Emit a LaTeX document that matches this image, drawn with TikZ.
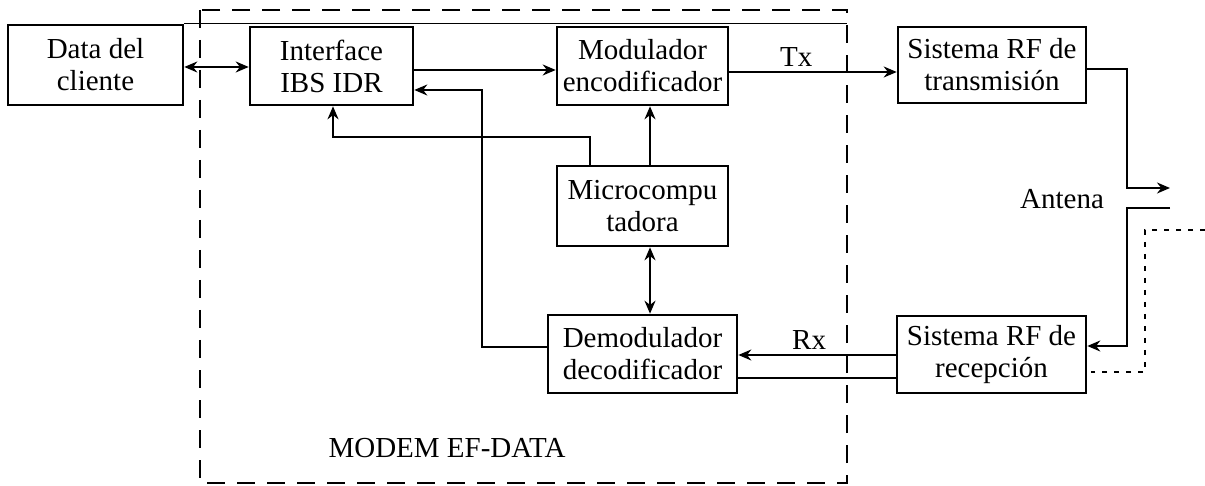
\documentclass[tikz,border=0pt]{standalone}
\usepackage{fontspec}
\setmainfont{Liberation Serif}
\usepackage{tikz}
\usetikzlibrary{calc,arrows.meta}

\begin{document}
\begin{tikzpicture}[x=0.5pt,y=-0.5pt,>={Stealth[length=6.5pt,width=5.5pt]},
    bloque/.style={draw,line width=1.3pt,align=center,inner sep=1pt,
        font=\fontsize{14.5}{16}\selectfont},
    flecha/.style={line width=1pt},
    etiqueta/.style={font=\fontsize{14.5}{16}\selectfont}]

        % Marco de la figura
        \useasboundingbox (0,0) rectangle (1205,486);

        % Recuadro del modem
        \draw[line width=1.4pt,dash pattern=on 9pt off 6pt] (200,10) rectangle (847,483);
        \node[etiqueta] (modem) at (447,448) {MODEM EF-DATA};

        % Bloques
        \node[bloque,minimum width=87.5pt,minimum height=40pt] (data) at (95.5,65) {Data del\\cliente};
        \node[bloque,minimum width=81.5pt,minimum height=39pt] (iface) at (331.5,66) {Interface\\IBS IDR};
        \node[bloque,minimum width=85.5pt,minimum height=39pt] (mod) at (642.5,66) {Modulador\\encodificador};
        \node[bloque,minimum width=85.5pt,minimum height=40pt] (micro) at (642.5,206) {Microcompu\\tadora};
        \node[bloque,minimum width=94.5pt,minimum height=39pt] (demod) at (642.5,354) {Demodulador\\decodificador};
        \node[bloque,minimum width=94pt,minimum height=38pt] (rftx) at (992,65) {Sistema RF de\\transmisión};
        \node[bloque,minimum width=94.5pt,minimum height=38.5pt] (rfrx) at (991.5,354.5) {Sistema RF de\\recepción};
        \node[etiqueta] (antena) at (1062,199) {Antena};

        % Linea superior
        \draw[line width=0.8pt] (data.north east) -- (data.north east -| 847,0);

        % Conexiones del modem
        \draw[flecha,<->] (data.east |- 0,67) -- (iface.west |- 0,67);
        \draw[flecha,->] (iface.east |- 0,70) -- (mod.west |- 0,70);
        \draw[flecha,->] (demod.west |- 0,347) -- (482,347) |- (iface.east |- 0,90);
        \draw[flecha,->] (micro.north -| 590,0) -- (590,137) -| (iface.south -| 333,0);
        \draw[flecha,->] (micro.north -| 650,0) -- (mod.south -| 650,0);
        \draw[flecha,<->] (micro.south -| 650,0) -- (demod.north -| 650,0);

        % Transmision y recepcion
        \draw[flecha,->] (mod.east |- 0,72) -- node[etiqueta,pos=0.4,above=-1pt] (tx) {Tx} (rftx.west |- 0,72);
        \draw[flecha,->] (rfrx.west |- 0,355) -- node[etiqueta,pos=0.55,above=-1pt] (rx) {Rx} (demod.east |- 0,355);
        \draw[flecha] (demod.east |- 0,378) -- (rfrx.west |- 0,378);

        % Antena
        \coordinate (anttx) at (1170,188);
        \coordinate (antrx) at (1170,208);
        \coordinate (antdot) at (1205,230);
        \draw[flecha,->] (rftx.east |- 0,69) -- (1127,69) |- (anttx);
        \draw[flecha,->] (antrx) -- (1127,208) |- (rfrx.east |- 0,346);
        \draw[line width=1pt,dash pattern=on 2.5pt off 3.5pt] (antdot) -- (1145,230) |- ([xshift=2pt]rfrx.east |- 0,372);
    \end{tikzpicture}
\end{document}
